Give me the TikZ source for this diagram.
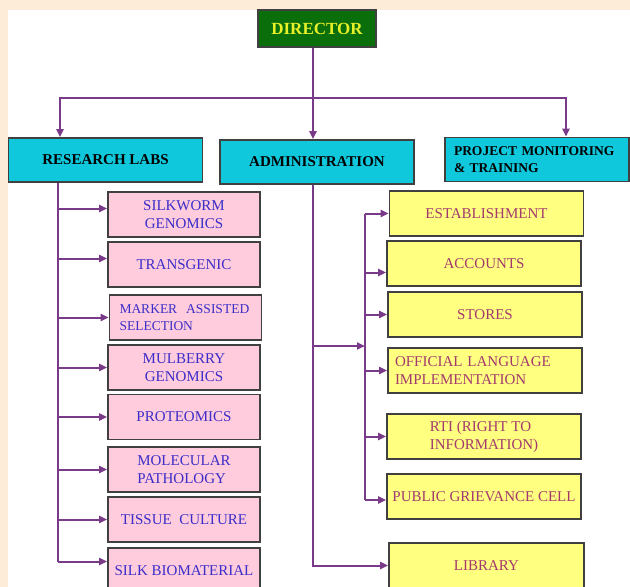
\documentclass[tikz,border=0pt]{standalone}
\usepackage{fontspec}
\setmainfont{Liberation Serif}
\usetikzlibrary{arrows.meta,positioning}
\definecolor{bgpeach}{RGB}{253,236,216}
\definecolor{dirgreen}{RGB}{10,110,10}
\definecolor{dirtext}{RGB}{232,240,40}
\definecolor{headcyan}{RGB}{16,200,220}
\definecolor{labpink}{RGB}{255,204,221}
\definecolor{labtext}{RGB}{60,45,200}
\definecolor{admyellow}{RGB}{255,255,128}
\definecolor{admtext}{RGB}{163,58,110}
\definecolor{linkpurple}{RGB}{122,58,138}

\begin{document}
\begin{tikzpicture}[x=1pt,y=-1pt,
  box/.style={draw=black!75,line width=1.8pt,minimum height=45pt,inner sep=2pt},
  headbox/.style={box,fill=headcyan,font=\fontsize{15}{17}\selectfont\bfseries,minimum width=194pt,minimum height=44pt},
  labbox/.style={box,fill=labpink,text=labtext,font=\fontsize{15}{18}\selectfont,minimum width=152pt,align=center},
  admbox/.style={box,fill=admyellow,text=admtext,font=\fontsize{15}{18}\selectfont,minimum width=194pt,align=center},
  link/.style={linkpurple,line width=2pt},
  arr/.style={link,-{Triangle[length=8pt,width=7pt]}}]
\useasboundingbox (0,0) rectangle (630,587);
\clip (0,0) rectangle (630,587);
% Background
\fill[bgpeach] (0,0) rectangle (630,587);
\fill[white] (8,10) rectangle (630,587);
% Top level
\node[box,fill=dirgreen,text=dirtext,font=\fontsize{17}{19}\selectfont\bfseries,minimum width=118pt,minimum height=37pt] (director) at (317,28.5) {DIRECTOR};
\node[headbox] (labs) at (105.5,160) {RESEARCH LABS};
\node[headbox] (admin) at (317,162) {ADMINISTRATION};
\node[headbox,minimum width=184pt,align=left,text width=166pt,font=\fontsize{13.5}{17}\selectfont\bfseries] (pmt) at (537,159.5) {PROJECT MONITORING\\\& TRAINING};
% Research labs
\node[labbox] (silkworm) at (184,214.5) {SILKWORM\\GENOMICS};
\node[labbox] (transgenic) at (184,264.5) {TRANSGENIC};
\node[labbox,align=left,text width=132pt,font=\fontsize{13.5}{17}\selectfont] (marker) at (185.5,317.5) {MARKER~ ASSISTED\\SELECTION};
\node[labbox] (mulberry) at (184,367.5) {MULBERRY\\GENOMICS};
\node[labbox] (proteomics) at (184,417) {PROTEOMICS};
\node[labbox,align=left] (pathology) at (184,469.5) {MOLECULAR\\PATHOLOGY};
\node[labbox] (tissue) at (184,519.5) {TISSUE~ CULTURE};
\node[labbox] (biomaterial) at (184,570.5) {SILK BIOMATERIAL};
% Administration
\node[admbox] (estab) at (486.5,213.5) {ESTABLISHMENT};
\node[admbox] (accounts) at (484,263.5) {ACCOUNTS};
\node[admbox] (stores) at (485,314.5) {STORES};
\node[admbox,align=left,text width=180pt] (official) at (485,370.5) {OFFICIAL LANGUAGE\\IMPLEMENTATION};
\node[admbox,align=left] (rti) at (484,436.5) {RTI (RIGHT TO\\INFORMATION)};
\node[admbox] (grievance) at (484,496.5) {PUBLIC GRIEVANCE CELL};
\node[admbox,minimum width=195pt] (library) at (486.5,565.5) {LIBRARY};
% Director to heads
\coordinate (split) at (313,98);
\draw[link] (split |- director.south) -- (split);
\draw[arr] (split) -| ([xshift=-45.5pt]labs.north);
\draw[arr] (split) -- (split |- admin.north);
\draw[arr] (split) -| ([xshift=29pt]pmt.north);
% Research labs branches
\coordinate (labtop) at ([xshift=-47.5pt]labs.south);
\coordinate (silkin) at ([yshift=6pt]silkworm.west);
\coordinate (transin) at ([yshift=6pt]transgenic.west);
\coordinate (bioin) at ([yshift=9pt]biomaterial.west);
\draw[link] (labtop) -- (labtop |- bioin);
\draw[arr] (labtop |- silkin) -- (silkin);
\draw[arr] (labtop |- transin) -- (transin);
\draw[arr] (labtop |- marker.west) -- (marker.west);
\draw[arr] (labtop |- mulberry.west) -- (mulberry.west);
\draw[arr] (labtop |- proteomics.west) -- (proteomics.west);
\draw[arr] (labtop |- pathology.west) -- (pathology.west);
\draw[arr] (labtop |- tissue.west) -- (tissue.west);
\draw[arr] (labtop |- bioin) -- (bioin);
% Administration branches
\coordinate (admtop) at ([xshift=-4pt]admin.south);
\coordinate (inner) at (365,346);
\coordinate (accin) at ([yshift=-9pt]accounts.west);
\coordinate (pgin) at ([yshift=-3.5pt]grievance.west);
\draw[arr] (admtop) |- (library.west);
\draw[arr] (admtop |- inner) -- (inner);
\draw[link] (inner |- estab.west) -- (inner |- pgin);
\draw[arr] (inner |- estab.west) -- (estab.west);
\draw[arr] (inner |- accin) -- (accin);
\draw[arr] (inner |- stores.west) -- (stores.west);
\draw[arr] (inner |- official.west) -- (official.west);
\draw[arr] (inner |- rti.west) -- (rti.west);
\draw[arr] (inner |- pgin) -- (pgin);
\end{tikzpicture}
\end{document}
